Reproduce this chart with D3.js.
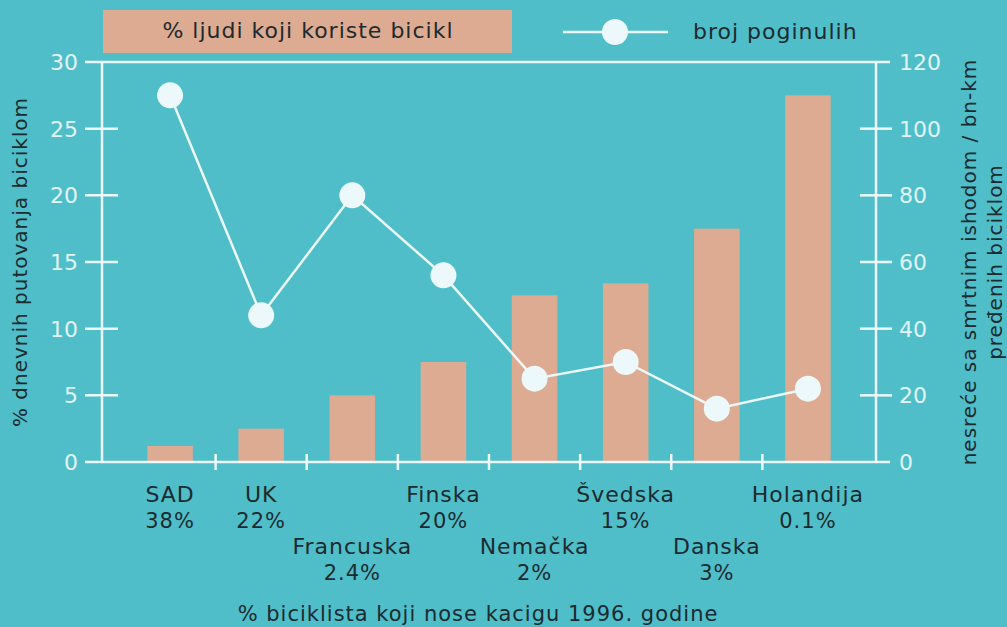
<!DOCTYPE html>
<html><head><meta charset="utf-8">
<script src="https://cdn.jsdelivr.net/npm/d3@7"></script>
<style>body{margin:0;background:#4fbec8;}svg{display:block;font-family:"DejaVu Sans",Verdana,sans-serif;}</style>
</head><body><svg id="c" width="1007" height="627"></svg>
<script>
const countries = ["SAD","UK","Francuska","Finska","Nemačka","Švedska","Danska","Holandija"];
const helmetPct = ["38%","22%","2.4%","20%","2%","15%","3%","0.1%"];
const cyclingShare = [1.2,2.5,5,7.5,12.5,13.4,17.5,27.5];
const deaths = [110,44,80,56,25,30,16,22];
const leftTicks = [0,5,10,15,20,25,30];
const rightTicks = [0,20,40,60,80,100,120];

(function(){
const W=1007,H=627;
const svg=d3.select("#c");
svg.append("rect").attr("width",W).attr("height",H).attr("fill","#4fbec8");
const pTop=62,pBottom=462,pLeft=102,pRight=876;
const x=d3.scaleBand().domain(countries).range([124.5,853.5]).paddingInner(0.5).paddingOuter(0.25);
const yL=d3.scaleLinear().domain([0,30]).range([pBottom,pTop]);
const yR=d3.scaleLinear().domain([0,120]).range([pBottom,pTop]);
const white="#ecf8f9", tickTxt="#e2f4f6", dark="#1d2a2f", bar="#dcab91";

svg.selectAll(".bar").data(countries).enter().append("rect")
 .attr("x",d=>x(d)).attr("width",x.bandwidth())
 .attr("y",(d,i)=>yL(cyclingShare[i])).attr("height",(d,i)=>pBottom-yL(cyclingShare[i]))
 .attr("fill",bar);

const g=svg.append("g").attr("stroke",white).attr("stroke-width",2.5);
g.append("line").attr("x1",85).attr("x2",890).attr("y1",pTop).attr("y2",pTop);
g.append("line").attr("x1",85).attr("x2",890).attr("y1",pBottom).attr("y2",pBottom);
g.append("line").attr("x1",pLeft).attr("x2",pLeft).attr("y1",pTop).attr("y2",pBottom);
g.append("line").attr("x1",pRight).attr("x2",pRight).attr("y1",pTop).attr("y2",pBottom);
leftTicks.slice(1,-1).forEach(t=>g.append("line").attr("x1",85).attr("x2",118).attr("y1",yL(t)).attr("y2",yL(t)));
rightTicks.slice(1,-1).forEach(t=>g.append("line").attr("x1",860).attr("x2",892).attr("y1",yR(t)).attr("y2",yR(t)));
const step=x.step();
countries.slice(0,-1).forEach(c=>{const xx=x(c)+x.bandwidth()/2+step/2;g.append("line").attr("x1",xx).attr("x2",xx).attr("y1",pBottom-8).attr("y2",pBottom+8);});

svg.selectAll(".tl").data(leftTicks).enter().append("text")
 .attr("x",78).attr("y",d=>yL(d)+8).attr("text-anchor","end").attr("font-size",22).attr("fill",tickTxt).text(d=>d);
svg.selectAll(".tr").data(rightTicks).enter().append("text")
 .attr("x",899).attr("y",d=>yR(d)+8).attr("text-anchor","start").attr("font-size",22).attr("fill",tickTxt).text(d=>d);

const cx=(d)=>x(d)+x.bandwidth()/2;
svg.append("path").datum(countries).attr("fill","none").attr("stroke",white).attr("stroke-width",2.5)
 .attr("d",d3.line().x(d=>cx(d)).y((d,i)=>yR(deaths[i])));
svg.selectAll(".pt").data(countries).enter().append("circle")
 .attr("cx",d=>cx(d)).attr("cy",(d,i)=>yR(deaths[i])).attr("r",13).attr("fill",white);

countries.forEach((c,i)=>{
  const row = (i===2||i===4||i===6)?1:0;
  const y0 = 502 + row*52;
  svg.append("text").attr("x",cx(c)).attr("y",y0).attr("text-anchor","middle").attr("font-size",22).attr("letter-spacing",1).attr("fill",dark).text(c);
  svg.append("text").attr("x",cx(c)).attr("y",y0+26).attr("text-anchor","middle").attr("font-size",21).attr("letter-spacing",1).attr("fill",dark).text(helmetPct[i]);
});

svg.append("text").attr("x",478).attr("y",621).attr("text-anchor","middle").attr("font-size",21).attr("letter-spacing",1).attr("fill",dark).text("% biciklista koji nose kacigu 1996. godine");
svg.append("text").attr("transform","translate(27,262) rotate(-90)").attr("text-anchor","middle").attr("font-size",20).attr("letter-spacing",1).attr("fill",dark).text("% dnevnih putovanja biciklom");
svg.append("text").attr("transform","translate(976,262) rotate(-90)").attr("text-anchor","middle").attr("font-size",20).attr("letter-spacing",1).attr("fill",dark).text("nesreće sa smrtnim ishodom / bn-km");
svg.append("text").attr("transform","translate(1002,262) rotate(-90)").attr("text-anchor","middle").attr("font-size",20).attr("letter-spacing",1).attr("fill",dark).text("pređenih biciklom");

svg.append("rect").attr("x",103).attr("y",10).attr("width",409).attr("height",43).attr("fill",bar);
svg.append("text").attr("x",308).attr("y",38).attr("text-anchor","middle").attr("font-size",22).attr("letter-spacing",1).attr("fill",dark).text("% ljudi koji koriste bicikl");
svg.append("line").attr("x1",563).attr("x2",668).attr("y1",32).attr("y2",32).attr("stroke",white).attr("stroke-width",2.5);
svg.append("circle").attr("cx",615).attr("cy",32).attr("r",13).attr("fill",white);
svg.append("text").attr("x",693).attr("y",39).attr("font-size",22).attr("letter-spacing",1).attr("fill",dark).text("broj poginulih");
})();
</script></body></html>
